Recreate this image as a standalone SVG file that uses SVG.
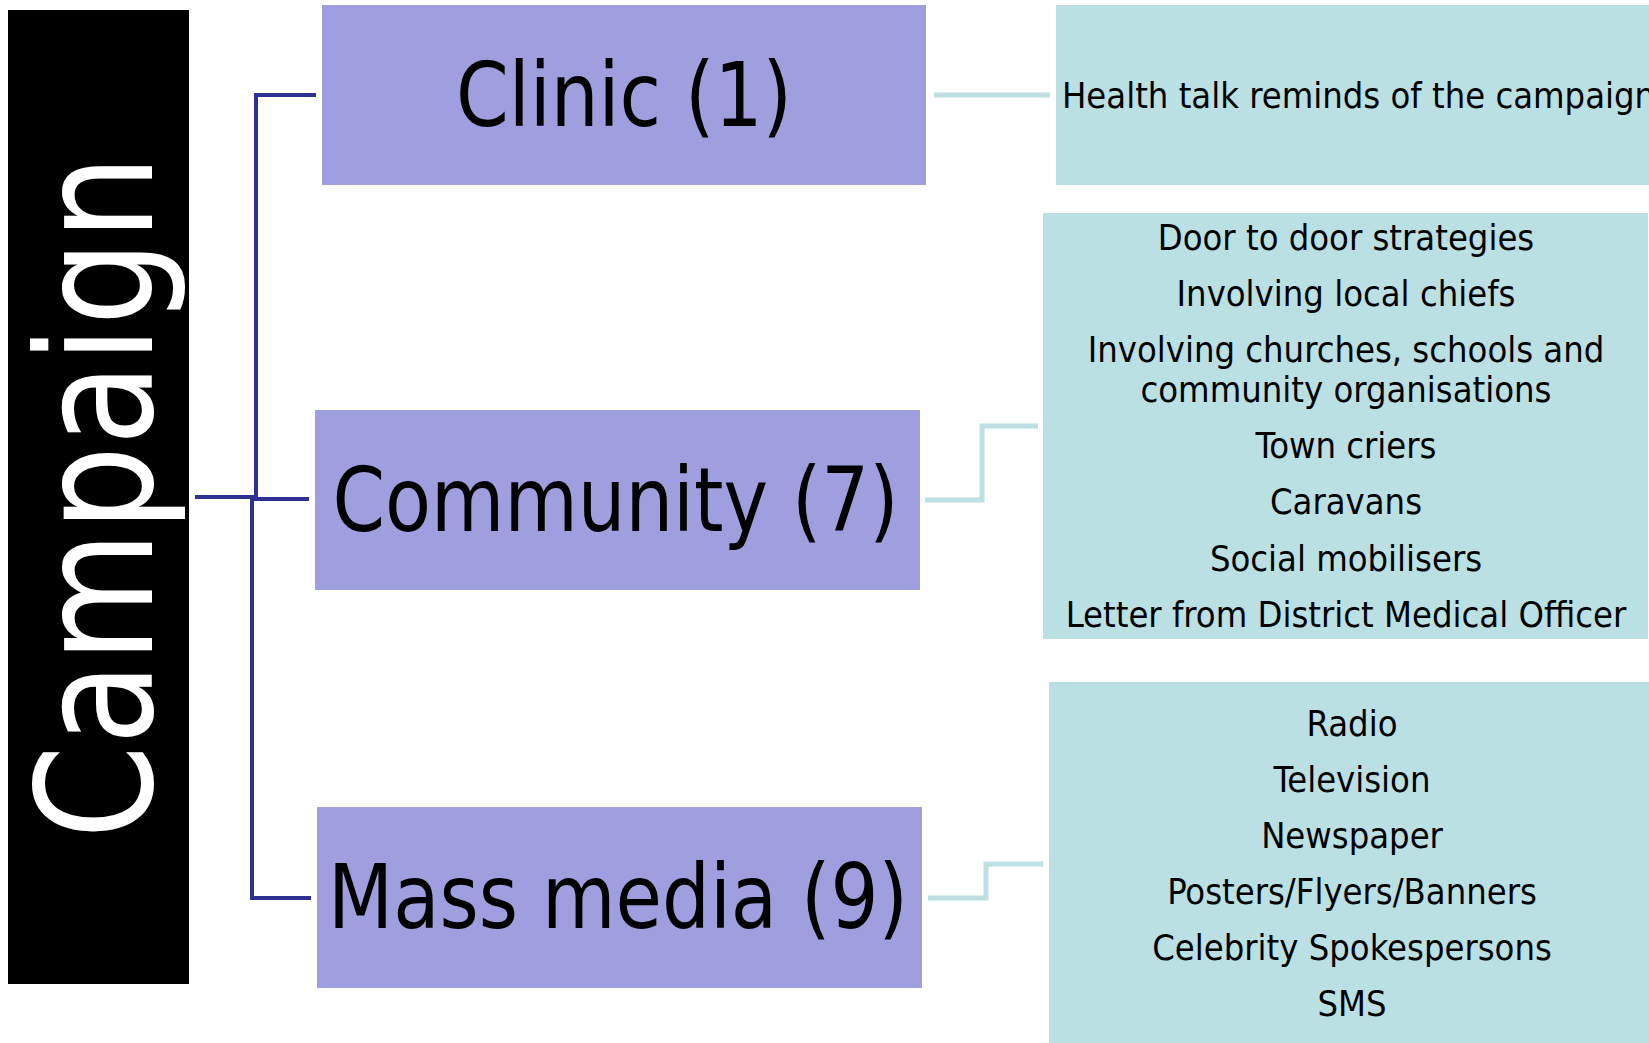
<svg xmlns="http://www.w3.org/2000/svg" width="1649" height="1043" viewBox="0 0 1649 1043">
<style>
.cat{fill:#9F9FDF;}
.det{fill:#BBE0E3;}
.lbl{font-family:"DejaVu Sans Condensed","DejaVu Sans",sans-serif;font-size:89px;fill:#000;text-anchor:middle;}
.item{font-family:"DejaVu Sans Condensed","DejaVu Sans",sans-serif;font-size:36px;fill:#000;text-anchor:middle;}
.main{stroke:#2E3192;stroke-width:4;fill:none;}
.sub{stroke:#BCE0E3;stroke-width:5;fill:none;}
</style>
<rect width="1649" height="1043" fill="#FFFFFF"/>
<g id="connectors">
<path class="main" d="M195,497 H256 V95 H316"/>
<path class="main" d="M195,497 H253 V499 H309"/>
<path class="main" d="M195,497 H252 V898 H311"/>
<path class="sub" d="M934,95 H1050"/>
<path class="sub" d="M925,500 H982 V426 H1038"/>
<path class="sub" d="M928,898 H986 V864 H1043"/>
</g>
<g id="campaign">
<rect x="8" y="10" width="181" height="974" fill="#000000"/>
<text transform="translate(152,497) rotate(-90)" x="0" y="0" font-family="'DejaVu Sans',sans-serif" font-size="160" fill="#FFFFFF" text-anchor="middle" textLength="684" lengthAdjust="spacingAndGlyphs">Campaign</text>
</g>
<g id="clinic">
<rect class="cat" x="322" y="5" width="604" height="180"/>
<text class="lbl" x="624" y="126" textLength="336" lengthAdjust="spacingAndGlyphs">Clinic (1)</text>
</g>
<g id="community">
<rect class="cat" x="315" y="410" width="605" height="180"/>
<text class="lbl" x="615.5" y="531" textLength="566" lengthAdjust="spacingAndGlyphs">Community (7)</text>
</g>
<g id="massmedia">
<rect class="cat" x="317" y="807" width="605" height="181"/>
<text class="lbl" x="618" y="928" textLength="580" lengthAdjust="spacingAndGlyphs">Mass media (9)</text>
</g>
<g id="clinic-details">
<rect class="det" x="1056" y="5" width="593" height="180"/>
<text class="item" x="1062" y="107.5" style="text-anchor:start">Health talk reminds of the campaign</text>
</g>
<g id="community-details">
<rect class="det" x="1043" y="213" width="605" height="426"/>
<text class="item" x="1346" y="250">Door to door strategies</text>
<text class="item" x="1346" y="306">Involving local chiefs</text>
<text class="item" x="1346" y="362">Involving churches, schools and</text>
<text class="item" x="1346" y="402">community organisations</text>
<text class="item" x="1346" y="458">Town criers</text>
<text class="item" x="1346" y="514">Caravans</text>
<text class="item" x="1346" y="571">Social mobilisers</text>
<text class="item" x="1346" y="627">Letter from District Medical Officer</text>
</g>
<g id="massmedia-details">
<rect class="det" x="1049" y="682" width="600" height="361"/>
<text class="item" x="1352" y="736">Radio</text>
<text class="item" x="1352" y="792">Television</text>
<text class="item" x="1352" y="848">Newspaper</text>
<text class="item" x="1352" y="904">Posters/Flyers/Banners</text>
<text class="item" x="1352" y="960">Celebrity Spokespersons</text>
<text class="item" x="1352" y="1016">SMS</text>
</g>
</svg>
